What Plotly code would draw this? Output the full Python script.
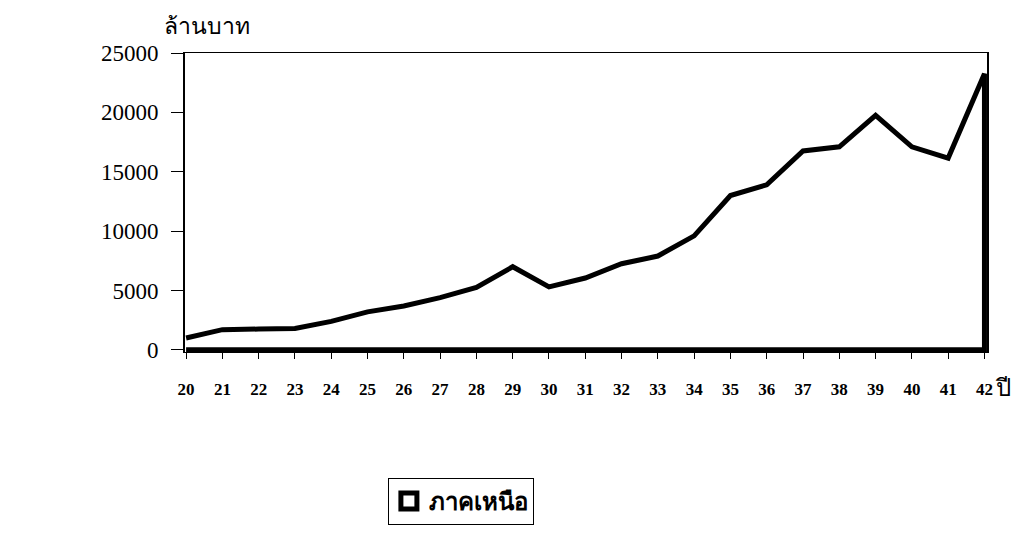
import plotly.graph_objects as go

years = list(range(20, 43))
values = [1000, 1700, 1750, 1800, 2400, 3200, 3700, 4400, 5250, 7000, 5300, 6050,
          7250, 7900, 9600, 13000, 13900, 16750, 17100, 19750, 17100, 16150, 23250]
tick_labels = [str(y) for y in years]
y_ticks = [0, 5000, 10000, 15000, 20000, 25000]
series_name = "ภาคเหนือ"
y_title = "ล้านบาท"
x_title = "ปี"

# closed outline of the area (down to zero at the last and first year)
xs = years + [years[-1], years[0]]
ys = values + [0, 0]

serif = "Liberation Serif, Times New Roman, serif"

fig = go.Figure()
fig.add_trace(go.Scatter(
    x=xs, y=ys, mode="lines", fill="toself", fillcolor="white",
    line=dict(color="black", width=5), name=series_name, showlegend=False,
))
# legend entry as a white box with heavy black border
fig.add_trace(go.Scatter(
    x=[None], y=[None], mode="markers", name=series_name, showlegend=True,
    marker=dict(symbol="square", size=22, color="white",
                line=dict(color="black", width=5)),
))

fig.update_layout(
    width=1024, height=535,
    margin=dict(l=185, r=37, t=53, b=183, autoexpand=False),
    paper_bgcolor="white", plot_bgcolor="white",
    showlegend=True,
    legend=dict(
        x=0.253, y=-0.421, xanchor="left", yanchor="top", xref="paper", yref="paper",
        orientation="h", bordercolor="black", borderwidth=1, bgcolor="white",
        font=dict(family="Noto Sans, sans-serif", size=24, color="black", weight="bold"),
        itemwidth=30, itemsizing="trace",
    ),
    xaxis=dict(
        range=[19.97, 42.07], tickmode="array", tickvals=years, ticktext=tick_labels,
        showgrid=False, zeroline=False, showline=True, linecolor="black", linewidth=1,
        mirror=True, ticks="outside", ticklen=6, tickcolor="black", automargin=False,
        ticklabelstandoff=16,
        tickfont=dict(family=serif, size=17, color="black", weight="bold"),
    ),
    yaxis=dict(
        range=[-180, 25000], tickmode="array", tickvals=y_ticks, tickformat="d",
        showgrid=False, zeroline=False, showline=True, linecolor="black", linewidth=2,
        mirror=True, ticks="outside", ticklen=12, tickcolor="black", automargin=False,
        ticklabelstandoff=8,
        tickfont=dict(family=serif, size=23, color="black"),
    ),
    annotations=[
        dict(text=y_title, x=0, y=1.0, xref="paper", yref="paper", xanchor="left",
             yanchor="bottom", yshift=10, xshift=-23, showarrow=False,
             font=dict(family="Noto Sans, sans-serif", size=23, color="black")),
        dict(text=x_title, x=1.0, y=0, xref="paper", yref="paper", xanchor="left",
             yanchor="top", xshift=6, yshift=-16, showarrow=False,
             font=dict(family="Noto Sans, sans-serif", size=24, color="black")),
    ],
)

fig.write_html("out.html", config={"displayModeBar": False},
               post_script="document.body.style.margin='0';document.body.style.overflow='hidden';")
